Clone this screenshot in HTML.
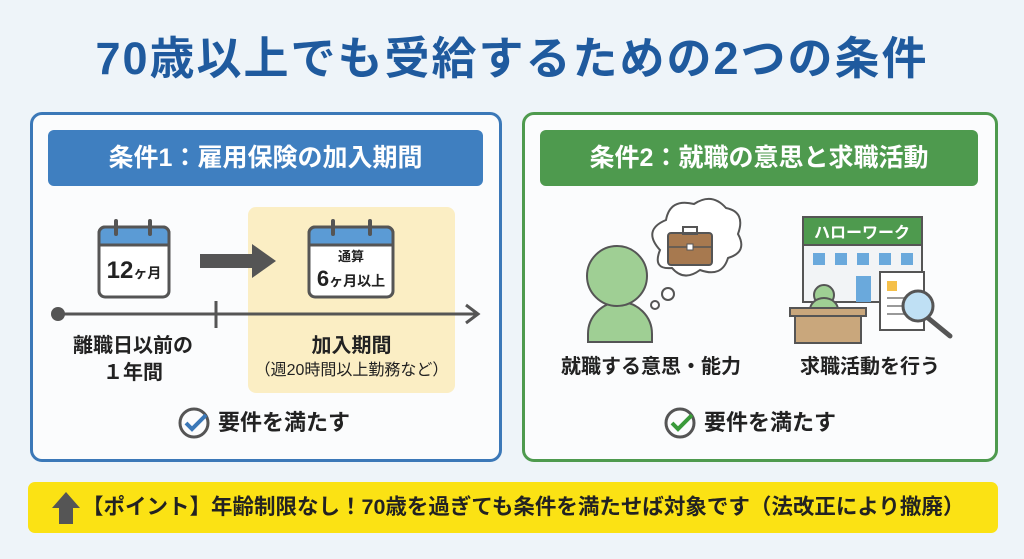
<!DOCTYPE html>
<html><head><meta charset="utf-8"><style>
*{margin:0;padding:0;box-sizing:border-box}
body{width:1024px;height:559px;background:#eef4f9;font-family:"Liberation Sans","Noto Sans CJK JP",sans-serif;position:relative;overflow:hidden;color:#222}
.a{position:absolute}
.t{white-space:nowrap;font-weight:bold}
</style></head><body>
<div class="a t" style="left:0;width:1024px;top:29px;text-align:center;font-size:45px;letter-spacing:2px;color:#1f5a9e;line-height:60px">70歳以上でも受給するための2つの条件</div>

<div class="a" style="left:30px;top:112px;width:472px;height:350px;border:3px solid #3b78b8;border-radius:12px;background:#fbfcfd"></div>
<div class="a t" style="left:48px;top:130px;width:435px;height:56px;background:#3f7fc0;border-radius:6px;color:#fff;font-size:25px;text-align:center;line-height:56px">条件1：雇用保険の加入期間</div>

<div class="a" style="left:522px;top:112px;width:476px;height:350px;border:3px solid #4e9a4e;border-radius:12px;background:#fbfcfd"></div>
<div class="a t" style="left:540px;top:130px;width:438px;height:56px;background:#4e9a4e;border-radius:6px;color:#fff;font-size:25px;text-align:center;line-height:56px">条件2：就職の意思と求職活動</div>

<div class="a" style="left:248px;top:207px;width:207px;height:186px;background:#fbeec4;border-radius:8px"></div>

<svg class="a" style="left:0;top:0" width="1024" height="559">
<rect x="99" y="227" width="70" height="70" rx="6" fill="#fff" stroke="#555" stroke-width="3"/>
<path d="M99 233 a6 6 0 0 1 6 -6 h58 a6 6 0 0 1 6 6 v12 h-70z" fill="#5b9bd5" stroke="#555" stroke-width="3"/>
<line x1="116" y1="221" x2="116" y2="234" stroke="#555" stroke-width="4" stroke-linecap="round"/>
<line x1="150" y1="221" x2="150" y2="234" stroke="#555" stroke-width="4" stroke-linecap="round"/>
<rect x="309" y="227" width="84" height="70" rx="6" fill="#fff" stroke="#555" stroke-width="3"/>
<path d="M309 233 a6 6 0 0 1 6 -6 h72 a6 6 0 0 1 6 6 v12 h-84z" fill="#5b9bd5" stroke="#555" stroke-width="3"/>
<line x1="333" y1="221" x2="333" y2="234" stroke="#555" stroke-width="4" stroke-linecap="round"/>
<line x1="370" y1="221" x2="370" y2="234" stroke="#555" stroke-width="4" stroke-linecap="round"/>
<rect x="200" y="254" width="52" height="14" fill="#555"/>
<path d="M252 244 l24 17 l-24 17z" fill="#555"/>
<line x1="58" y1="314" x2="478" y2="314" stroke="#555" stroke-width="3"/>
<circle cx="58" cy="314" r="7" fill="#555"/>
<line x1="216" y1="301" x2="216" y2="328" stroke="#555" stroke-width="3"/>
<path d="M466 305 l12 9 l-12 9" fill="none" stroke="#555" stroke-width="3"/>
<circle cx="194" cy="423" r="14" fill="none" stroke="#555" stroke-width="3"/>
<path d="M186 423 l6 6 l14 -14" fill="none" stroke="#3b78b8" stroke-width="4"/>
<circle cx="680" cy="423" r="14" fill="none" stroke="#555" stroke-width="3"/>
<path d="M672 423 l6 6 l14 -14" fill="none" stroke="#3a9a3a" stroke-width="4"/>
<path d="M588 342 v-8 a32 32 0 0 1 64 0 v8z" fill="#9fcf94" stroke="#555" stroke-width="2"/>
<circle cx="617" cy="276" r="30" fill="#9fcf94" stroke="#555" stroke-width="2"/>
<circle cx="655" cy="305" r="4" fill="#fff" stroke="#555" stroke-width="2"/>
<circle cx="668" cy="294" r="6" fill="#fff" stroke="#555" stroke-width="2"/>
<path d="M660 250 q-18 -20 6 -30 q4 -22 28 -16 q18 -12 32 4 q20 4 12 26 q10 18 -10 24 q-6 20 -28 12 q-16 12 -28 -2 q-20 2 -12 -18z" fill="#fff" stroke="#555" stroke-width="2"/>
<rect x="668" y="233" width="44" height="32" rx="3" fill="#a7794f" stroke="#555" stroke-width="2"/>
<rect x="683" y="227" width="14" height="7" fill="none" stroke="#555" stroke-width="2"/>
<line x1="668" y1="247" x2="712" y2="247" stroke="#555" stroke-width="1.5"/>
<rect x="687" y="244" width="6" height="6" fill="#fff" stroke="#555"/>
<rect x="803" y="244" width="119" height="58" fill="#f2f4f6" stroke="#555" stroke-width="2"/>
<rect x="803" y="217" width="119" height="28" fill="#4e9a4e" stroke="#555" stroke-width="2"/>
<text x="862" y="238" text-anchor="middle" font-size="16" font-weight="bold" fill="#fff" font-family="Liberation Sans,Noto Sans CJK JP,sans-serif">ハローワーク</text>
<g fill="#6aa9dc"><rect x="813" y="253" width="12" height="12"/><rect x="835" y="253" width="12" height="12"/><rect x="857" y="253" width="12" height="12"/><rect x="879" y="253" width="12" height="12"/><rect x="901" y="253" width="12" height="12"/><rect x="856" y="276" width="15" height="26"/></g>
<rect x="880" y="272" width="44" height="58" fill="#fff" stroke="#555" stroke-width="2"/>
<rect x="887" y="281" width="10" height="10" fill="#f5c04a"/>
<g stroke="#999" stroke-width="2"><line x1="887" y1="298" x2="915" y2="298"/><line x1="887" y1="306" x2="910" y2="306"/><line x1="887" y1="314" x2="912" y2="314"/></g>
<circle cx="824" cy="295" r="10" fill="#9fcf94" stroke="#555" stroke-width="2"/>
<path d="M810 310 a14 12 0 0 1 28 0z" fill="#9fcf94" stroke="#555" stroke-width="2"/>
<rect x="790" y="308" width="76" height="8" fill="#c9a77c" stroke="#555" stroke-width="2"/>
<rect x="795" y="316" width="66" height="27" fill="#c9a77c" stroke="#555" stroke-width="2"/>
<line x1="928" y1="318" x2="950" y2="336" stroke="#555" stroke-width="5" stroke-linecap="round"/>
<circle cx="918" cy="306" r="15" fill="#bfe0f4" stroke="#555" stroke-width="3"/>
<rect x="28" y="482" width="970" height="51" rx="7" fill="#fbe214"/>
<path d="M52 508 l14 -16 l14 16 h-7 v16 h-14 v-16z" fill="#555"/>
</svg>

<div class="a t" style="left:99px;width:70px;top:255px;text-align:center;font-size:24px;line-height:32px">12<span style="font-size:14px">ヶ月</span></div>
<div class="a t" style="left:309px;width:84px;top:249px;text-align:center;font-size:13px;line-height:16px">通算</div>
<div class="a t" style="left:309px;width:84px;top:266px;text-align:center;font-size:22px;line-height:26px">6<span style="font-size:14px">ヶ月以上</span></div>
<div class="a t" style="left:58px;width:150px;top:333px;text-align:center;font-size:20px;line-height:27px">離職日以前の<br>１年間</div>
<div class="a t" style="left:248px;width:207px;top:333px;text-align:center;font-size:20px;line-height:26px">加入期間</div>
<div class="a t" style="left:248px;width:207px;top:360px;text-align:center;font-size:16px;line-height:22px;font-weight:normal">（週20時間以上勤務など）</div>
<div class="a t" style="left:218px;top:408px;font-size:22px;line-height:30px">要件を満たす</div>
<div class="a t" style="left:555px;width:192px;top:353px;text-align:center;font-size:20px;line-height:28px">就職する意思・能力</div>
<div class="a t" style="left:785px;width:170px;top:353px;text-align:center;font-size:20px;line-height:28px">求職活動を行う</div>
<div class="a t" style="left:704px;top:408px;font-size:22px;line-height:30px">要件を満たす</div>
<div class="a t" style="left:82px;top:492px;font-size:21.5px;line-height:30px">【ポイント】年齢制限なし！70歳を過ぎても条件を満たせば対象です（法改正により撤廃）</div>
</body></html>
